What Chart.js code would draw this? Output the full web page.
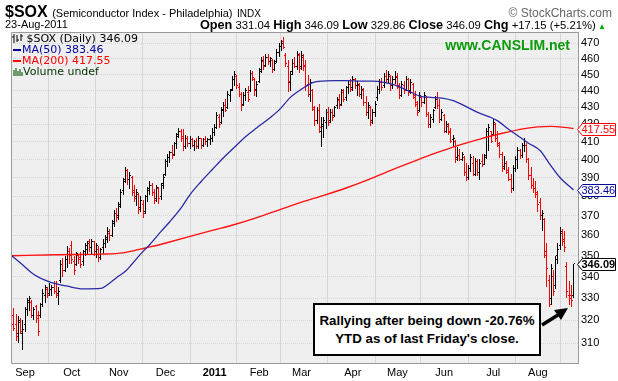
<!DOCTYPE html>
<html><head><meta charset="utf-8">
<script src="https://cdn.jsdelivr.net/npm/chart.js@4/dist/chart.umd.min.js"></script>
<style>
html,body{margin:0;padding:0;background:#fff;}
#wrap{position:relative;width:618px;height:381px;overflow:hidden;font-family:"Liberation Sans",Arial,sans-serif;color:#000;}
canvas{position:absolute;left:0;top:0;}
.abs{position:absolute;white-space:nowrap;line-height:1;}
#legend{font-family:"DejaVu Sans",Verdana,sans-serif;font-size:11px;}
#legend div{height:11px;line-height:11px;white-space:nowrap;}
.dash{display:inline-block;width:8px;height:2px;vertical-align:middle;margin-right:1px;margin-left:1px;}
#callout{position:absolute;left:313px;top:303px;width:224px;height:42px;border:2.5px solid #000;background:#fff;white-space:nowrap;
 font-weight:bold;font-size:13.3px;text-align:center;line-height:18px;padding-top:7px;box-sizing:content-box;}
</style></head><body>
<div id="wrap">
<canvas id="c" width="618" height="381"></canvas>
<div class="abs" style="left:5px;top:4px;"><b style="font-size:16px;">$SOX</b> <span style="font-size:11px;">(Semiconductor Index - Philadelphia)</span> <span style="font-size:10px;">INDX</span></div>
<div class="abs" style="right:6px;top:7px;font-size:12px;color:#666;">© StockCharts.com</div>
<div class="abs" style="left:5px;top:19px;font-size:11px;">23-Aug-2011</div>
<div class="abs" id="quote" style="right:12px;top:19px;font-size:11.3px;"></div>
<div class="abs" id="legend" style="left:12px;top:33px;">
 <div><svg width="11" height="9" style="vertical-align:-1px"><path d="M2 0V9M0 3H2M5 1V8M5 6H7M9 0V7M9 2H11" stroke="#000" stroke-width="1"/></svg> $SOX (Daily) <span id="lgClose"></span></div>
 <div style="color:#00009c;"><span class="dash" style="background:#00009c;"></span>MA(50) <span id="lg50"></span></div>
 <div style="color:#ff0000;"><span class="dash" style="background:#ff0000;"></span>MA(200) <span id="lg200"></span></div>
 <div style="color:#003300;"><svg width="10" height="9" style="vertical-align:-1px;margin-left:1px"><path d="M1 3V9M3 1V9M5 4V9M7 2V9M9 5V9" stroke="#1a6a1a" stroke-width="1.2"/></svg>Volume undef</div>
</div>
<div class="abs" style="right:48px;top:38px;font-size:14px;font-weight:bold;color:#0a9a0a;">www.CANSLIM.net</div>
<div id="callout">Rallying after being down -20.76%<br>YTD as of last Friday's close.</div>
</div>
<script>
// ---- data ----
const monthIdx    = [6, 27, 48, 69, 91, 111, 130, 153, 173, 194, 216, 236];
const monthLabels = ['Sep','Oct','Nov','Dec','2011','Feb','Mar','Apr','May','Jun','Jul','Aug'];
const yTicks = [310,320,330,340,350,360,370,380,390,400,410,420,430,440,450,460,470];

const opens = [324,322,318,314,319,314,318,325,329,328,322,326,322,322,327,331,334,332,334,335,333,332,338,346,343,348,352,
355,347,346,350,349,347,352,353,357,354,357,352,353,349,354,356,359,361,360,367,371,
370,376,383,389,394,389,390,383,380,381,374,376,372,380,383,386,382,379,384,380,387,
392,399,401,404,403,409,414,416,413,407,412,409,411,408,410,407,412,408,411,410,411,412,
415,418,424,421,428,431,430,437,441,447,449,442,438,432,437,439,440,451,447,441,
446,453,458,456,461,458,459,453,458,464,468,471,462,455,445,452,457,455,462,
455,461,456,444,438,440,429,422,428,416,419,421,427,422,427,425,431,434,432,439,436,442,444,
442,447,443,443,438,440,433,427,430,422,427,436,441,445,443,449,447,449,443,447,
449,442,437,443,441,447,440,444,436,433,428,436,433,436,426,420,423,430,436,431,423,
425,416,419,416,411,410,401,402,400,401,393,390,395,398,392,399,393,399,397,402,416,416,
414,420,412,408,403,396,398,394,389,384,395,400,405,402,408,408,400,391,386,384,
382,377,370,368,352,338,330,340,336,350,355,361,357,345,331,331,331.04];
const highs = [325,325.5,323,322,321,320,326,330,331,329,326,327,324,328,334,336,335,337,336,338,338,335,348,349,350,355,354,
357,350,352,351,352,353,356,357,358,358,357,356,355,354,358,360,364,363,368,373,374,
377,384,390,396,395,393,391,386,384,382,380,378,381,385,388,387,384,386,385,387,392,
400,403,405,408,410,415,418,417,417,414,413,413,412,411,412,413,412,412,413,412,414,418,
420,427,426,430,433,435,440,441,449,452,450,445,439,439,442,443,453,452,448,446,
454,461,462,463,463,461,460,459,466,470,472,474,464,459,452,460,461,465,464,
465,463,459,450,447,441,431,430,432,424,424,429,430,429,429,431,436,438,441,441,443,446,447,
449,448,446,445,443,442,437,433,431,429,434,443,447,448,451,453,452,450,449,452,
451,445,446,446,449,448,447,445,440,434,439,437,439,437,427,426,429,437,439,435,429,
426,422,421,418,414,411,407,406,404,402,398,397,403,402,401,400,400,403,403,418,420,416,
423,421,416,410,404,402,399,396,392,397,402,407,406,409,412,409,401,396,390,388,
383,379,373,369,356,341,346,343,350,356,364,363,362,347,338,336,346.09];
const lows = [317,315.5,311,310,314,307,315,322,324,321,320,319,313,321,326,328,330,331,331,332,330,327,337,340,342,344,346,
346,341,345,346,344,345,350,351,352,351,350,349,347,348,351,354,356,357,359,364,367,
368,374,381,387,386,384,380,377,375,371,372,369,371,377,381,380,376,377,376,378,384,
391,396,398,400,402,406,412,410,405,406,407,406,407,405,406,406,406,407,408,407,408,410,
413,417,418,420,424,427,429,433,440,443,441,436,428,431,434,433,439,446,437,436,
445,451,453,455,456,455,451,452,457,461,465,466,455,439,440,450,454,453,451,
453,452,440,436,433,428,419,420,415,407,412,417,419,421,422,424,429,429,431,433,434,438,439,
440,441,437,436,435,431,425,423,419,420,424,434,438,440,442,445,444,440,441,444,
441,435,436,438,440,437,438,435,430,425,427,430,432,424,418,418,421,429,429,421,422,
415,415,414,409,407,398,399,399,399,391,388,389,393,391,391,391,389,396,397,400,405,409,
414,410,407,401,393,394,392,388,382,383,393,395,400,401,404,398,389,384,382,379,
372,368,362,349,335,326,327,331,334,346,353,355,352,330,327,326,329.86];
const closes = [318,316.5,313,320,315,316,325,328,330,322,325,321,315,327,332,335,331,334,335,333,331,333,346,343,348,352,350,
348,343,351,348,346,352,355,356,354,357,352,355,349,353,356,358,362,360,366,371,369,
375,382,388,394,389,391,382,379,382,373,378,371,380,384,386,382,378,385,379,386,390,
399,401,404,402,409,413,416,412,407,412,409,411,408,410,407,412,408,411,410,411,412,415,
418,425,420,429,431,428,438,440,447,450,443,438,431,437,440,435,451,448,440,444,
452,459,455,461,458,460,453,457,464,468,470,467,457,446,450,457,455,463,454,
462,455,443,438,445,430,422,428,418,420,422,427,421,427,424,430,435,431,440,435,442,444,441,
447,443,444,438,441,433,427,431,421,427,432,441,445,442,449,447,450,443,447,448,
443,437,444,440,447,439,445,437,432,427,437,433,437,426,420,424,428,435,431,423,427,
416,420,415,410,412,400,402,400,403,393,390,395,401,392,399,393,398,397,401,416,418,410,
421,412,409,403,395,398,393,389,384,395,400,405,402,408,410,400,391,386,384,381,
376,370,371,350,344,327,344,333,348,353,362,358,354,333,330,328.94,346.09];

const ma50Idx = [0,5,10,17,25,32,40,44,47,51,54,58,62,67,71,76,80,85,90,95,100,105,110,115,120,125,130,135,140,145,150,156,162,167,172,177,183,188,193,198,203,209,214,218,223,228,232,237,241,246,252];
const ma50Val = [350,345.5,341,337.5,335.5,334.3,334.5,337,339.5,342.5,346,351,355.5,362,367,374,381,388,394.5,401,407,413,418,423,428.5,436,441,445,446,446.2,446.2,446,446,445.2,443.5,440.5,436.8,436,435.5,434,431,427,424.5,422,417,412.5,409,405,398,390,383.46];
const ma200Idx = [0,20,40,50,55,60,65,70,80,90,100,110,120,130,140,150,160,170,180,190,200,210,220,230,236,242,248,252];
const ma200Val = [350,350.5,350.8,351.4,352.5,353.8,355,356.5,359.5,362.5,365.5,369,373,377,380.6,384.5,389,394,398.8,403.5,407.8,411.5,414.8,417.5,418.5,418.8,418.2,417.55];

// ---- derived styling ----
const last = closes.length - 1;
const barColors = closes.map((c,i)=> (i>0 && c>=closes[i-1]) ? '#000000' : '#ff0000');
document.getElementById('lgClose').textContent = closes[last].toFixed(2);
document.getElementById('lg50').textContent = ma50Val[ma50Val.length-1].toFixed(2);
document.getElementById('lg200').textContent = ma200Val[ma200Val.length-1].toFixed(2);
const chg = closes[last]-closes[last-1];
const B = s => '<b style="font-size:12.7px">'+s+'</b>';
document.getElementById('quote').innerHTML =
 B('Open')+' '+opens[last].toFixed(2)+' '+B('High')+' '+highs[last].toFixed(2)+' '+B('Low')+' '+lows[last].toFixed(2)+
 ' '+B('Close')+' '+closes[last].toFixed(2)+' '+B('Chg')+' +'+chg.toFixed(2)+' (+'+(chg/closes[last-1]*100).toFixed(2)+'%)<span style="color:#0a0;font-size:8px;"> ▲</span>';

const FONT = '"Liberation Sans", Arial, sans-serif';

const plotBg = {
  id:'plotBg',
  beforeDraw(chart){
    const a = chart.chartArea, ctx = chart.ctx;
    ctx.save(); ctx.fillStyle = '#efefef';
    ctx.fillRect(a.left, a.top, a.right-a.left, a.bottom-a.top);
    ctx.restore();
  },
  afterDatasetsDraw(chart){
    const a = chart.chartArea, ctx = chart.ctx;
    ctx.save(); ctx.strokeStyle = '#9a9a9a'; ctx.lineWidth = 1;
    ctx.beginPath();
    ctx.moveTo(Math.round(a.right)+0.5, Math.round(a.top)+0.5);
    ctx.lineTo(Math.round(a.left)+0.5, Math.round(a.top)+0.5);
    ctx.lineTo(Math.round(a.left)+0.5, Math.round(a.bottom)+0.5);
    ctx.lineTo(Math.round(a.right)+0.5, Math.round(a.bottom)+0.5);
    ctx.stroke(); ctx.restore();
  }
};

const ohlcDraw = {
  id:'ohlcDraw',
  beforeDatasetDraw(chart, args){
    if (args.index !== 0) return;
    const ys = chart.scales.y, ctx = chart.ctx, a = chart.chartArea;
    ctx.save();
    ctx.beginPath(); ctx.rect(a.left, a.top, a.right-a.left, a.bottom-a.top); ctx.clip();
    args.meta.data.forEach((el, i) => {
      const px = Math.round(el.x - 0.5);
      const top = Math.round(Math.min(el.y, el.base));
      const bot = Math.round(Math.max(el.y, el.base));
      const yo = Math.round(ys.getPixelForValue(opens[i]) - 0.5);
      const yc = Math.round(ys.getPixelForValue(closes[i]) - 0.5);
      ctx.fillStyle = barColors[i];
      ctx.fillRect(px, top, 1, Math.max(1, bot-top));
      ctx.fillRect(px-1, yo, 1, 1);
      ctx.fillRect(px+1, yc, 1, 1);
    });
    ctx.restore();
    return false;
  }
};

const tags = {
  id:'tags',
  afterDraw(chart){
    const ys = chart.scales.y, ctx = chart.ctx, a = chart.chartArea;
    const list = [
      [ma200Val[ma200Val.length-1], '#ff0000', false],
      [ma50Val[ma50Val.length-1], '#00009c', false],
      [closes[last], '#000000', true]
    ];
    list.forEach(([v,col,bold])=>{
      const y = Math.round(ys.getPixelForValue(v))+0.5;
      const x0 = Math.round(a.right)+0.5;
      ctx.save();
      ctx.beginPath();
      ctx.moveTo(x0-1, y); ctx.lineTo(x0+4, y-6); ctx.lineTo(x0+37, y-6);
      ctx.lineTo(x0+37, y+6); ctx.lineTo(x0+4, y+6); ctx.closePath();
      ctx.fillStyle = '#fff'; ctx.fill();
      ctx.strokeStyle = col; ctx.lineWidth = 1; ctx.stroke();
      ctx.fillStyle = col;
      ctx.font = (bold ? 'bold 11px ' : '11px ') + FONT;
      ctx.textBaseline = 'middle'; ctx.textAlign = 'left';
      ctx.fillText(v.toFixed(2), x0+3, y+0.5);
      ctx.restore();
    });
    // callout arrow (annotation)
    ctx.save();
    ctx.strokeStyle = '#000'; ctx.fillStyle = '#000'; ctx.lineWidth = 3.5;
    ctx.beginPath(); ctx.moveTo(542, 325); ctx.lineTo(558, 315); ctx.stroke();
    ctx.beginPath(); ctx.moveTo(568, 308); ctx.lineTo(554, 310); ctx.lineTo(561, 320); ctx.closePath(); ctx.fill();
    ctx.restore();
  }
};

new Chart(document.getElementById('c'), {
  type: 'bar',
  data: {
    datasets: [
      { type:'bar', label:'$SOX', data: lows.map((l,i)=>({x:i, y:[l, highs[i]]})),
        backgroundColor: barColors, barThickness: 1, order: 3 },
      { type:'line', label:'MA(200)', data: ma200Idx.map((x,i)=>({x, y: ma200Val[i]})),
        borderColor:'#ff1010', borderWidth:1.4, pointRadius:0, cubicInterpolationMode:'monotone', order: 2 },
      { type:'line', label:'MA(50)', data: ma50Idx.map((x,i)=>({x, y: ma50Val[i]})),
        borderColor:'#2a2aa6', borderWidth:1.3, pointRadius:0, cubicInterpolationMode:'monotone', order: 1 }
    ]
  },
  options: {
    responsive:false, animation:false, devicePixelRatio:1,
    layout:{ padding:{ left:11, top:32, right:0, bottom:0 } },
    plugins:{ legend:{display:false}, tooltip:{enabled:false} },
    scales:{
      x:{ type:'linear', min:-0.3, max:254, offset:false,
        afterBuildTicks: s => { s.ticks = monthIdx.map(v=>({value:v})); },
        afterFit: s => { s.height = 18; },
        grid:{ color:'#d6d6d6', drawTicks:false },
        border:{ display:false },
        ticks:{ autoSkip:false, maxRotation:0, padding:3, color:'#000',
          callback:(v,i)=> monthLabels[i],
          font: c => ({ family: FONT, size: 11, weight: monthLabels[c.index]==='2011' ? 'bold' : 'normal' }) }
      },
      y:{ type:'logarithmic', position:'right', min:301.6, max:477.4,
        afterBuildTicks: s => { s.ticks = yTicks.map(v=>({value:v})); },
        afterFit: s => { s.width = 40; },
        grid:{ color:'#d6d6d6', drawTicks:false },
        border:{ display:true, color:'#9a9a9a', dash:[1,1] },
        ticks:{ padding:3, color:'#000', callback: v => String(v), font:{ family: FONT, size: 11 } }
      }
    }
  },
  plugins:[plotBg, ohlcDraw, tags]
});
</script>
</body></html>
